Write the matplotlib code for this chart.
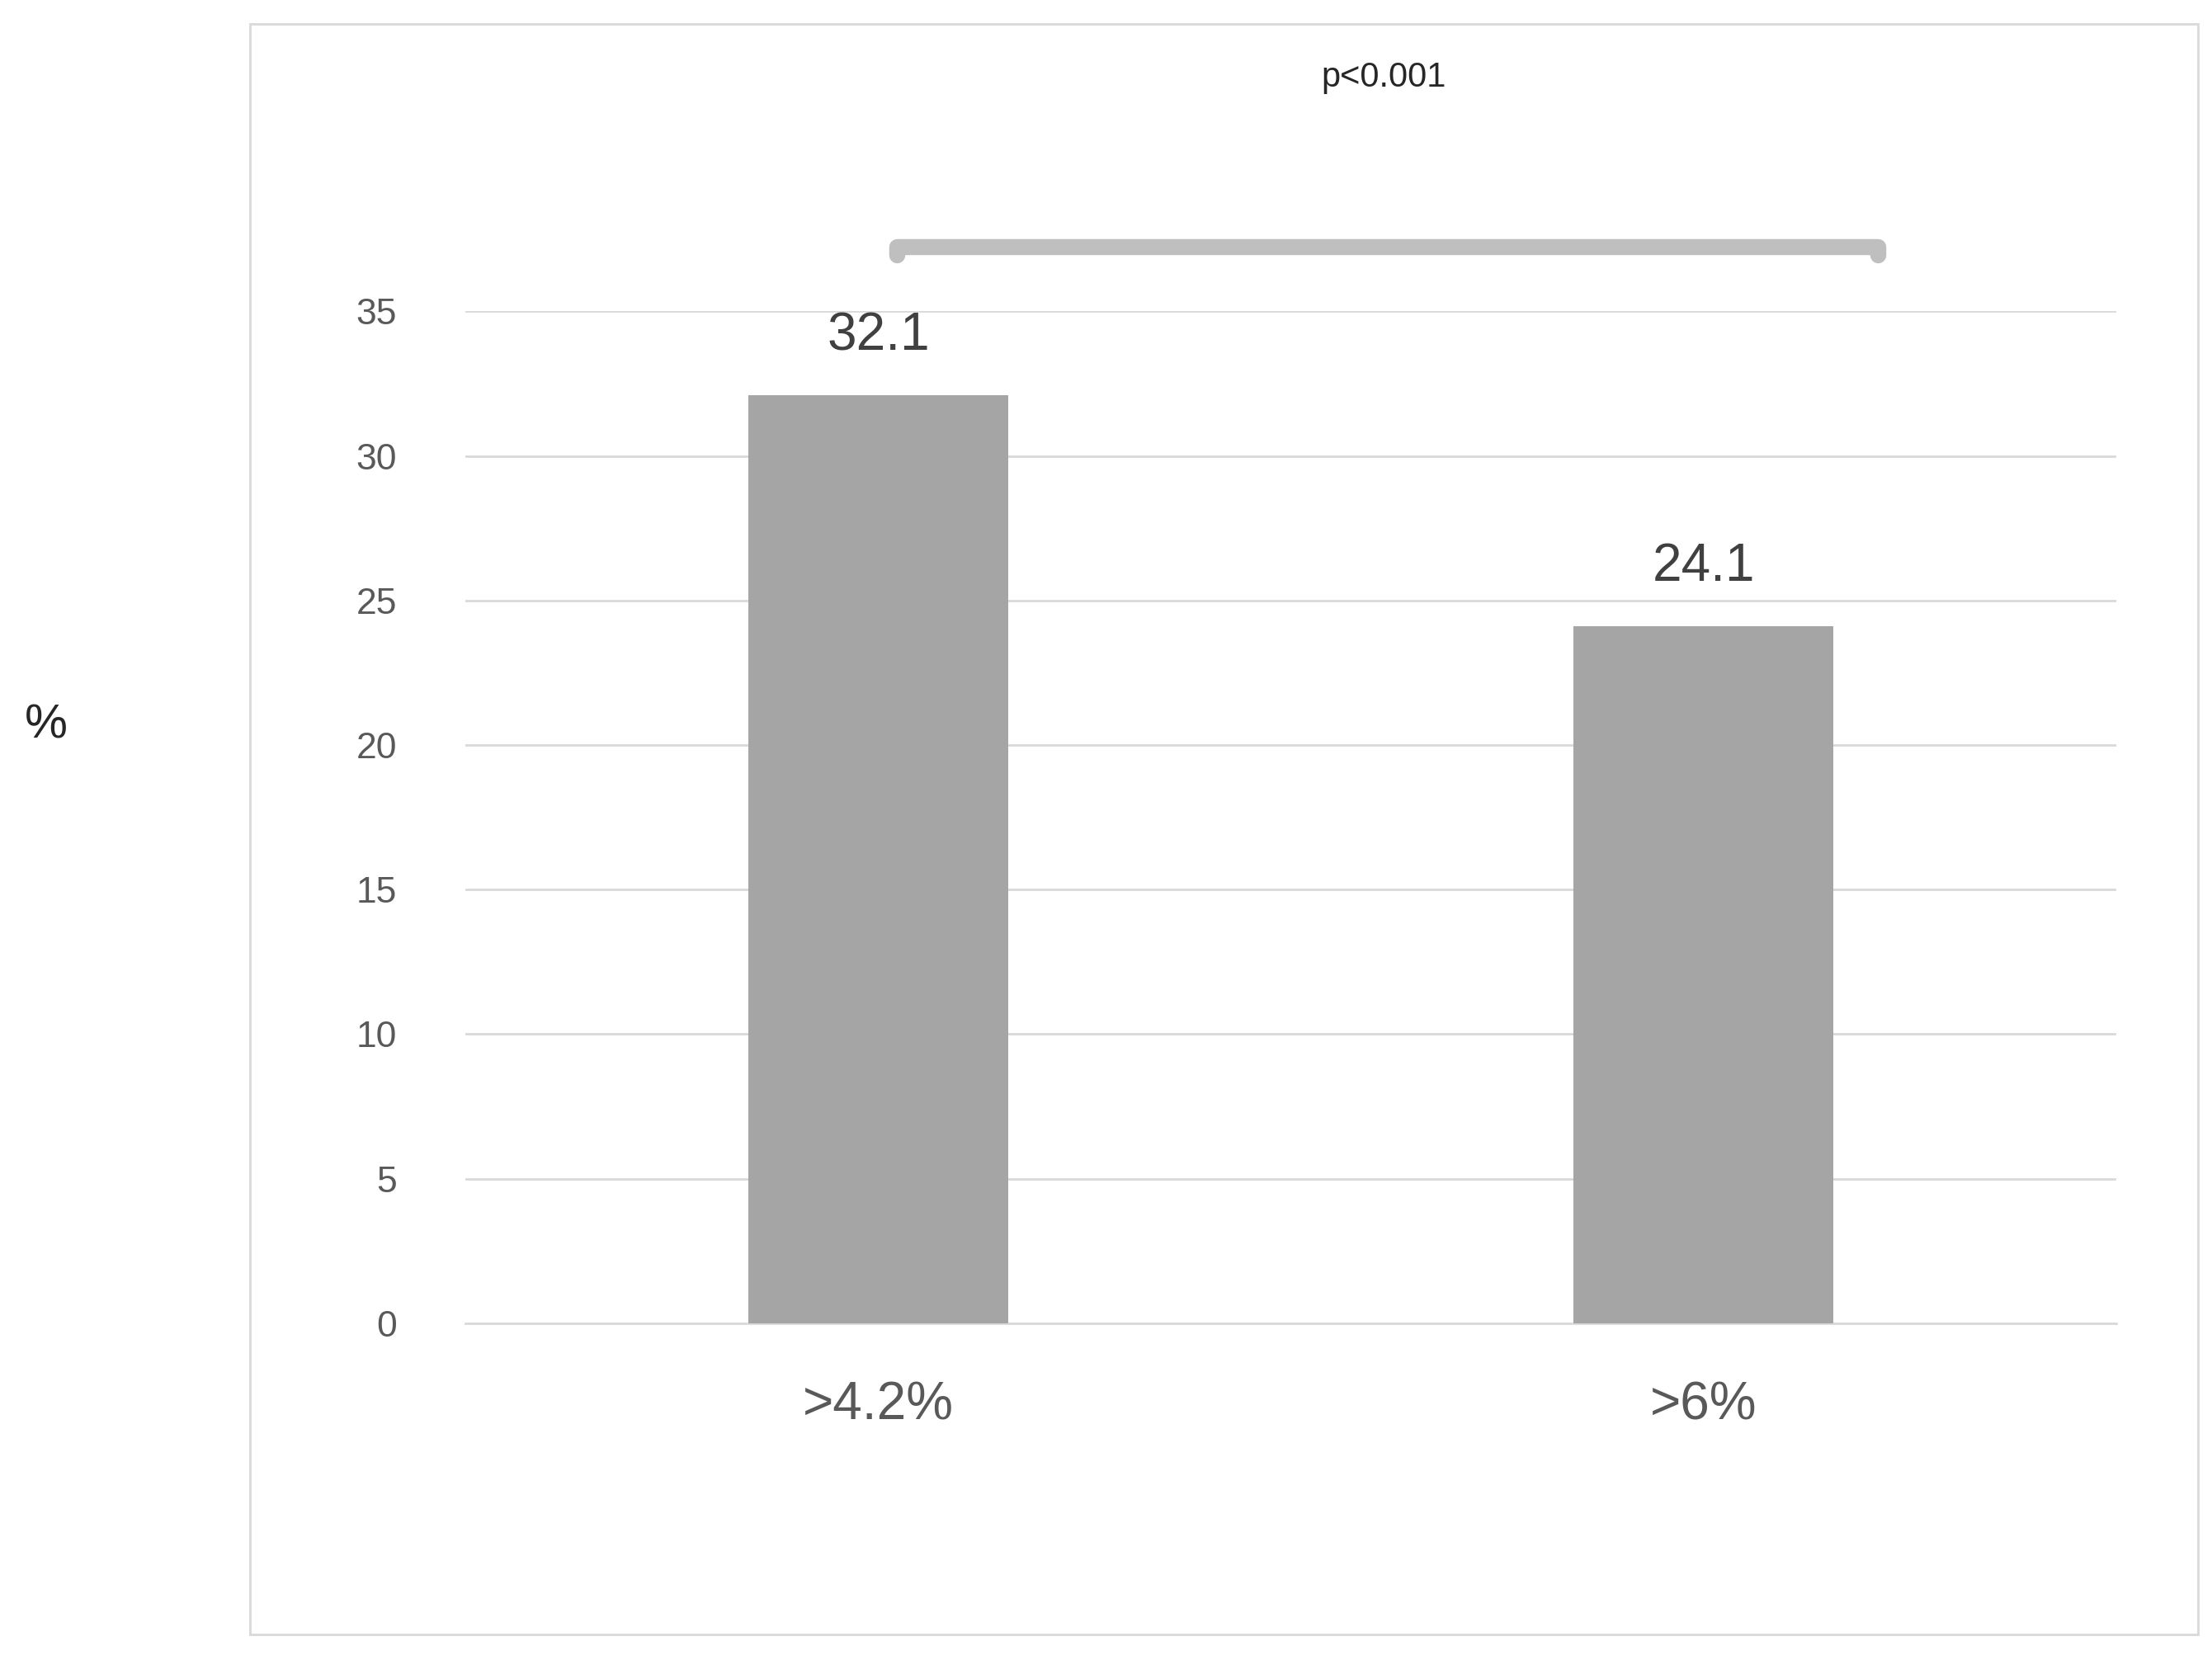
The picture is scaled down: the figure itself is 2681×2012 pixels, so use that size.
#!/usr/bin/env python3
"""Bar chart: share of patients above two thresholds, with significance bracket."""

import matplotlib
import matplotlib.pyplot as plt
from matplotlib.patches import Rectangle

matplotlib.use("Agg")

categories = [">4.2%", ">6%"]
values = [32.1, 24.1]
y_ticks = [0, 5, 10, 15, 20, 25, 30, 35]
p_label = "p<0.001"

BAR_COLOR = "#A5A5A5"
TEXT_COLOR = "#595959"
GRID_COLOR = "#D9D9D9"

plt.rcParams["font.family"] = ["Liberation Sans", "DejaVu Sans"]

fig = plt.figure(figsize=(26.81, 20.12), dpi=100)
ax = fig.add_axes([0.2105, 0.2029, 0.7461, 0.6095])

# outer frame of the chart area
fig.patches.append(Rectangle((0.1129, 0.0153), 0.8807, 0.9703, transform=fig.transFigure,
                             fill=False, edgecolor="#D9D9D9", linewidth=2))

x = list(range(len(categories)))
ax.bar(x, values, width=0.315, color=BAR_COLOR, zorder=3)
for xi, v in zip(x, values):
    ax.text(xi, v + 1.2, f"{v:.1f}", ha="center", va="bottom", fontsize=46, color="#404040")

ax.set_xlim(-0.5, 1.5)
ax.set_ylim(0, 35)
ax.set_yticks(y_ticks)
ax.set_xticks(x)
ax.set_xticklabels(categories)
ax.tick_params(axis="y", length=0, labelsize=32, labelcolor=TEXT_COLOR, pad=60)
ax.tick_params(axis="x", length=0, labelsize=46, labelcolor=TEXT_COLOR, pad=50)
ax.grid(axis="y", color=GRID_COLOR, linewidth=2, zorder=0)
for side in ["top", "right", "left"]:
    ax.spines[side].set_visible(False)
ax.spines["bottom"].set_color(GRID_COLOR)
ax.spines["bottom"].set_linewidth(2)

# significance bracket
bx0, bx1, by = 0.023, 1.211, 37.25
ax.plot([bx0, bx0, bx1, bx1], [by - 0.3, by, by, by - 0.3], color="#BFBFBF",
        linewidth=14, solid_capstyle="round", solid_joinstyle="round", clip_on=False)
ax.text((bx0 + bx1) / 2 - 0.004, 43.1, p_label, ha="center", va="center",
        fontsize=30, color="#262626", clip_on=False)

fig.text(0.021, 0.563, "%", ha="center", va="center", fontsize=42, color="#262626")

fig.savefig("out.png", dpi=100)
plt.close(fig)
